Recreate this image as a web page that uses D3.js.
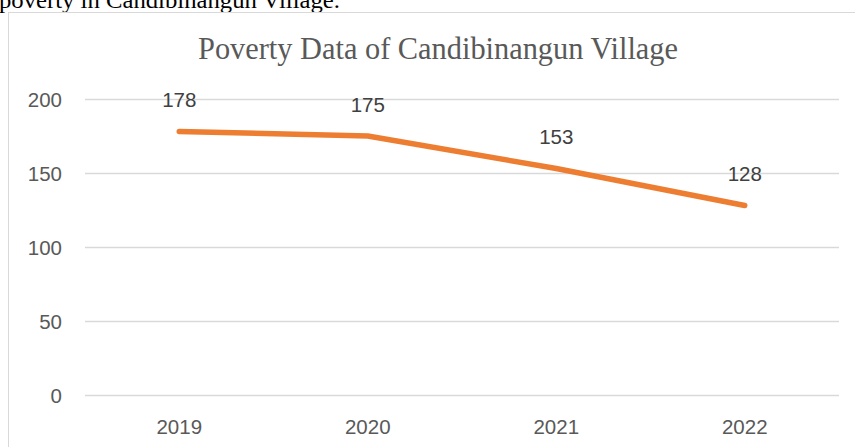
<!DOCTYPE html>
<html><head><meta charset="utf-8">
<script src="https://cdn.jsdelivr.net/npm/d3@7"></script>
<style>html,body{margin:0;padding:0;background:#fff;overflow:hidden}</style>
</head><body>
<svg id="c" width="855" height="447"></svg>
<script>
const categories = ["2019", "2020", "2021", "2022"];
const values = [178, 175, 153, 128];
const yTicks = [0, 50, 100, 150, 200];
const title = "Poverty Data of Candibinangun Village";
const caption = "poverty in Candibinangun Village.";

(function () {
const svg = d3.select("#c");
const mLeft = 85, mRight = 839, mTop = 99, mBottom = 395;

// page text above chart (cropped)
svg.append("text").attr("x", -1).attr("y", 8)
  .attr("font-family", "Liberation Serif, serif").attr("font-size", 24)
  .attr("fill", "#000").attr("textLength", 341).attr("lengthAdjust", "spacingAndGlyphs")
  .text(caption);

// chart area border
svg.append("rect").attr("x", 8.5).attr("y", 12.5).attr("width", 900).attr("height", 500)
  .attr("fill", "#fff").attr("stroke", "#d9d9d9").attr("stroke-width", 1);

svg.append("text").attr("x", 438).attr("y", 59).attr("text-anchor", "middle")
  .attr("font-family", "Liberation Serif, serif").attr("font-size", 31)
  .attr("fill", "#595959").attr("textLength", 480).attr("lengthAdjust", "spacingAndGlyphs")
  .text(title);

const x = d3.scaleBand().domain(categories).range([mLeft, mRight]);
const y = d3.scaleLinear().domain([0, 200]).range([mBottom, mTop]);

// gridlines
svg.append("g").selectAll("line").data(yTicks).join("line")
  .attr("x1", mLeft).attr("x2", mRight)
  .attr("y1", d => Math.round(y(d)) + 0.5).attr("y2", d => Math.round(y(d)) + 0.5)
  .attr("stroke", "#d9d9d9").attr("stroke-width", 1.5);

const font = "Liberation Sans, Arial, sans-serif";
// y axis
const yAxis = d3.axisLeft(y).tickValues(yTicks).tickSize(0).tickPadding(0);
const gy = svg.append("g").attr("transform", "translate(62,0)").call(yAxis);
gy.select(".domain").remove();
gy.selectAll("text").attr("font-family", font).attr("font-size", 20.5).attr("fill", "#595959")
  .attr("dy", "0.35em");

// x axis
const xAxis = d3.axisBottom(x).tickSize(0).tickPadding(0);
const gx = svg.append("g").attr("transform", `translate(0,${mBottom})`).call(xAxis);
gx.select(".domain").remove();
gx.selectAll("text").attr("font-family", font).attr("font-size", 20.5).attr("fill", "#595959")
  .attr("dy", null).attr("y", 39);

const cx = d => x(d) + x.bandwidth() / 2;
const line = d3.line().x((d, i) => cx(categories[i])).y(d => y(d));
svg.append("path").datum(values).attr("d", line)
  .attr("fill", "none").attr("stroke", "#ED7D31").attr("stroke-width", 5.5)
  .attr("stroke-linecap", "round").attr("stroke-linejoin", "round");

svg.append("g").selectAll("text").data(values).join("text")
  .attr("x", (d, i) => cx(categories[i])).attr("y", d => y(d) - 24.5)
  .attr("text-anchor", "middle").attr("font-family", font).attr("font-size", 20.5)
  .attr("fill", "#404040").text(d => d);
})();
</script>
</body></html>
